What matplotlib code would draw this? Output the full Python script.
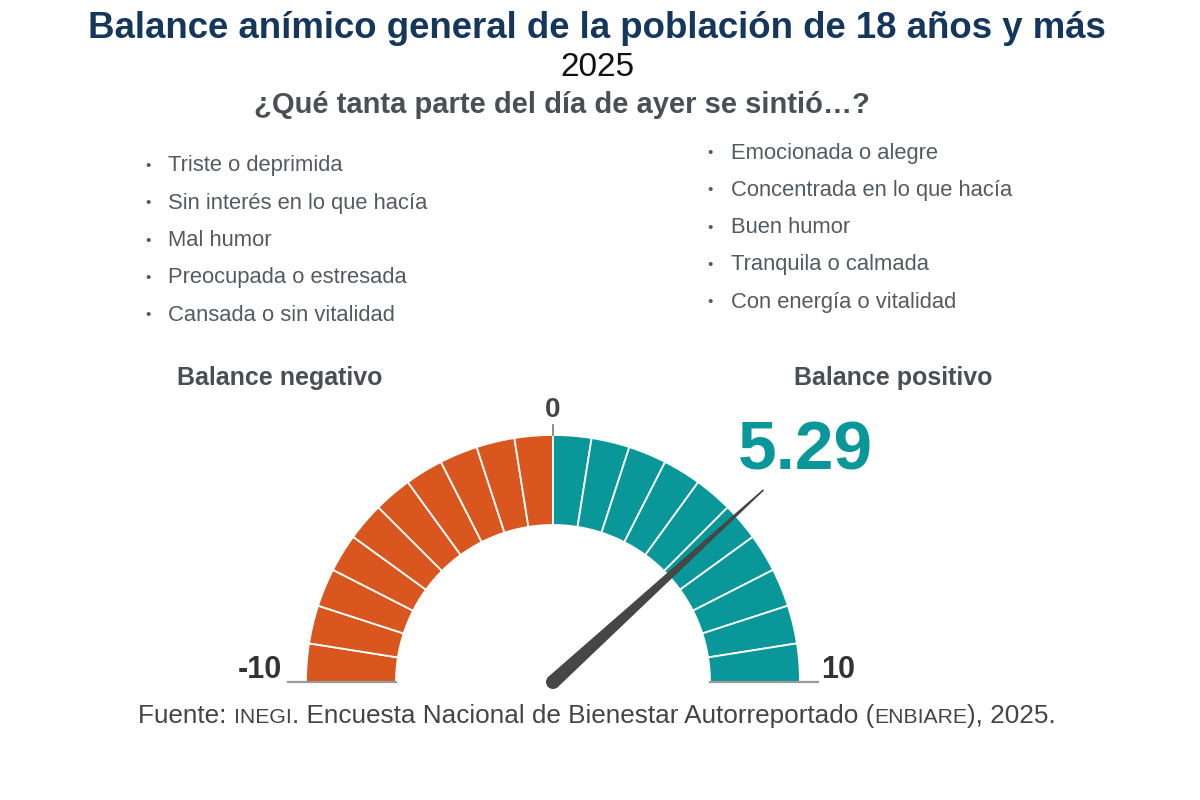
import numpy as np
import matplotlib
matplotlib.use("Agg")
import matplotlib.pyplot as plt
from matplotlib.patches import Wedge, Polygon, Circle

plt.rcParams['font.family'] = ['Liberation Sans', 'DejaVu Sans']

# data
valor = 5.29
v_min, v_max = -10, 10
n_segmentos = 20
negativos = ["Triste o deprimida", "Sin interés en lo que hacía", "Mal humor",
             "Preocupada o estresada", "Cansada o sin vitalidad"]
positivos = ["Emocionada o alegre", "Concentrada en lo que hacía", "Buen humor",
             "Tranquila o calmada", "Con energía o vitalidad"]

naranja = "#D9561F"
verde = "#0A979A"
gris = "#555a60"

fig = plt.figure(figsize=(12, 8), dpi=100)
ax = fig.add_axes([0, 0, 1, 1])
ax.set_xlim(0, 1200)
ax.set_ylim(0, 800)
ax.set_aspect("equal")
ax.axis("off")

def Y(y):  # image row -> axis y
    return 800 - y

# titles
ax.text(597, Y(28), "Balance anímico general de la población de 18 años y más",
        ha="center", va="center", fontsize=26.4, fontweight="bold", color="#15375E")
ax.text(597, Y(68), "2025", ha="center", va="center", fontsize=24, color="#111111")
ax.text(562, Y(105), "¿Qué tanta parte del día de ayer se sintió…?",
        ha="center", va="center", fontsize=21, fontweight="bold", color="#4a4f55")

# bullet lists
for i, t in enumerate(negativos):
    y = Y(166 + i * 37.3)
    ax.text(148, y, "•", ha="center", va="center", fontsize=11, color=gris)
    ax.text(168, y, t, ha="left", va="center", fontsize=15.8, color=gris)
for i, t in enumerate(positivos):
    y = Y(153 + i * 37.3)
    ax.text(710, y, "•", ha="center", va="center", fontsize=11, color=gris)
    ax.text(731, y, t, ha="left", va="center", fontsize=15.8, color=gris)

ax.text(280, Y(378), "Balance negativo", ha="center", va="center",
        fontsize=18, fontweight="bold", color="#4a4f55")
ax.text(893, Y(378), "Balance positivo", ha="center", va="center",
        fontsize=18, fontweight="bold", color="#4a4f55")

# gauge
cx, cy = 553, Y(682)
r_out, r_in = 247, 157

def ang(v):
    return 180 - (v - v_min) / (v_max - v_min) * 180

edges = np.linspace(v_min, v_max, n_segmentos + 1)
for a, b in zip(edges[:-1], edges[1:]):
    col = naranja if b <= 0 else verde
    ax.add_patch(Wedge((cx, cy), r_out, ang(b), ang(a), width=r_out - r_in,
                       facecolor=col, edgecolor="white", lw=1.3))

ax.plot([cx - r_out - 18, cx - r_in], [cy, cy], color="#9a9a9a", lw=1.6)
ax.plot([cx + r_in, cx + r_out + 18], [cy, cy], color="#9a9a9a", lw=1.6)
ax.plot([cx, cx], [cy + r_out, cy + r_out + 10], color="#777777", lw=1.2)

ax.text(cx, Y(410), "0", ha="center", va="center", fontsize=20,
        fontweight="bold", color="#444444")
ax.text(282, Y(670), "-10", ha="right", va="center", fontsize=22,
        fontweight="bold", color="#333333")
ax.text(821, Y(670), "10", ha="left", va="center", fontsize=22,
        fontweight="bold", color="#333333")

# needle
t = np.deg2rad(ang(valor))
L, w0, w1 = 285, 7, 0.8
d = np.array([np.cos(t), np.sin(t)])
n = np.array([-np.sin(t), np.cos(t)])
c = np.array([cx, cy])
pts = [c + n * w0, c + d * L + n * w1, c + d * L - n * w1, c - n * w0]
ax.add_patch(Polygon(pts, closed=True, facecolor="#464646", edgecolor="none", zorder=5))
ax.add_patch(Circle((cx, cy), w0, facecolor="#464646", edgecolor="none", zorder=5))

ax.text(805, Y(452), f"{valor:.2f}", ha="center", va="center", fontsize=50,
        fontweight="bold", color=verde)

# source with small caps acronyms
partes = [("Fuente: ", 18.8), ("INEGI", 15.2), (". Encuesta Nacional de Bienestar Autorreportado (", 18.8),
          ("ENBIARE", 15.2), ("), 2025.", 18.8)]
fig.canvas.draw()
r = fig.canvas.get_renderer()
objs = []
for s, fs in partes:
    objs.append(ax.text(0, Y(723), s, ha="left", va="baseline", fontsize=fs, color="#444444"))
widths = [o.get_window_extent(r).width for o in objs]
x = 597 - sum(widths) / 2
for o, w in zip(objs, widths):
    o.set_x(x)
    x += w

fig.savefig("out.png", dpi=100, facecolor="white")
